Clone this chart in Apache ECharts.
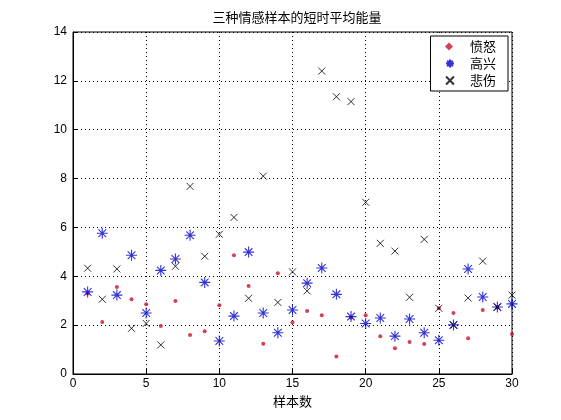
<!DOCTYPE html>
<html>
<head>
<meta charset="utf-8">
<script src="https://cdn.jsdelivr.net/npm/echarts@6/dist/echarts.min.js"></script>
<style>html,body{margin:0;padding:0;background:#fff}#main{width:561px;height:420px}</style>
</head>
<body>
<div id="main"></div>
<script>
// 样本序号 1..30
var samples = [];
for (var i = 1; i <= 30; i++) samples.push(i);
var anger = [3.3,2.13,3.56,3.06,2.86,1.96,2.99,1.6,1.75,2.81,4.86,3.6,1.24,4.12,2.12,2.58,2.41,0.72,2.3,2.41,1.55,1.05,1.31,1.23,2.69,2.5,1.46,2.62,2.72,1.64];
var happy = [3.36,5.76,3.23,4.86,2.5,4.24,4.71,5.68,3.75,1.35,2.37,4.99,2.5,1.69,2.62,3.72,4.34,3.26,2.35,2.07,2.29,1.55,2.25,1.69,1.38,2.01,4.3,3.15,2.74,2.87];
var sad = [4.33,3.06,4.3,1.87,2.07,1.19,4.41,7.68,4.82,5.72,6.41,3.1,8.1,2.93,4.18,3.4,12.4,11.35,11.15,7.03,5.35,5.03,3.14,5.51,2.69,2.0,3.11,4.62,2.74,3.23];

var pair = function(arr){
	return arr.map(function(v, i){ return [samples[i], v]; });
};

var font = 'Noto Sans CJK SC';
var chart = echarts.init(document.getElementById('main'));
var option = {
	animation: false,
	backgroundColor: '#fff',
	textStyle: {fontFamily: font},
	title: {
		text: '三种情感样本的短时平均能量',
		left: 292, top: 6, textAlign: 'center',
		textStyle: {fontSize: 13, fontWeight: 'normal', color: '#000', fontFamily: font}
	},
	legend: {
		right: 53, top: 36, orient: 'vertical',
		itemGap: 4, itemWidth: 30, itemHeight: 8,
		backgroundColor: '#fff', borderColor: '#000', borderWidth: 1,
		padding: [4, 12, 4, 2],
		textStyle: {fontSize: 13, color: '#000', fontFamily: font},
		data: [
			{name: '愤怒', icon: 'path://M-10,0L-10,0M0,0L20,20L0,40L-20,20ZM30,0L30,0'},
			{name: '高兴', icon: 'path://M-12,5L-12,5M5,0L5,10M0,5L10,5M1.5,1.5L8.5,8.5M8.5,1.5L1.5,8.5M22,5L22,5'},
			{name: '悲伤', icon: 'path://M-14,0L-14,0M0,0L10,10M10,0L0,10M24,0L24,0'}
		]
	},
	grid: {left: 73, right: 49, top: 32, bottom: 46, show: true, borderColor: '#000', borderWidth: 1},
	xAxis: {
		type: 'value', min: 0, max: 30, interval: 5,
		name: '样本数', nameLocation: 'middle', nameGap: 16,
		nameTextStyle: {fontSize: 13, color: '#000', fontFamily: font},
		axisLine: {lineStyle: {color: '#000'}},
		axisTick: {inside: true, length: 5, lineStyle: {color: '#000'}},
		axisLabel: {color: '#000', fontSize: 12, margin: 4, fontFamily: 'Liberation Sans'},
		splitLine: {lineStyle: {color: '#000', type: [1, 3]}}
	},
	yAxis: {
		type: 'value', min: 0, max: 14, interval: 2,
		axisLine: {lineStyle: {color: '#000'}},
		axisTick: {inside: true, length: 5, lineStyle: {color: '#000'}},
		axisLabel: {color: '#000', fontSize: 12, margin: 6, fontFamily: 'Liberation Sans'},
		splitLine: {lineStyle: {color: '#000', type: [1, 3]}}
	},
	series: [
		{
			name: '愤怒', type: 'scatter', symbol: 'circle', symbolSize: 4,
			itemStyle: {color: '#c8102e'},
			data: pair(anger)
		},
		{
			name: '高兴', type: 'scatter',
			symbol: 'path://M5,0L5,10M0,5L10,5M1.5,1.5L8.5,8.5M8.5,1.5L1.5,8.5', symbolSize: 11,
			itemStyle: {color: 'none', borderColor: '#0000cc', borderWidth: 1.1},
			data: pair(happy)
		},
		{
			name: '悲伤', type: 'scatter',
			symbol: 'path://M0,0L10,10M10,0L0,10', symbolSize: 7,
			itemStyle: {color: 'none', borderColor: '#000', borderWidth: 1},
			data: pair(sad)
		}
	]
};
chart.setOption(option);
</script>
</body>
</html>
